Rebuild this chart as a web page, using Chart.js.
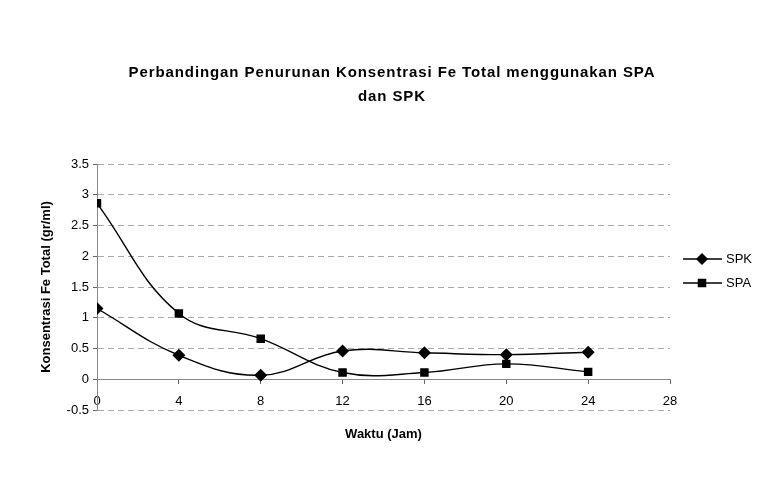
<!DOCTYPE html>
<html>
<head>
<meta charset="utf-8">
<script src="https://cdn.jsdelivr.net/npm/chart.js@4/dist/chart.umd.min.js"></script>
<style>
  body { margin: 0; background: #fff; }
  canvas { display: block; }
</style>
</head>
<body>
<canvas id="myChart" width="782" height="493"></canvas>
<script>
// data
const waktu = [0, 4, 8, 12, 16, 20, 24];
const spk = [1.15, 0.39, 0.065, 0.46, 0.43, 0.40, 0.44];
const spa = [2.86, 1.07, 0.66, 0.11, 0.11, 0.25, 0.12];
const seriesNames = ['SPK', 'SPA'];
const seriesMarkers = ['rectRot', 'rect'];
const titleLines = ['Perbandingan Penurunan Konsentrasi Fe Total menggunakan SPA', 'dan SPK'];

function toPoints(values) {
    return waktu.map((x, i) => ({ x: x, y: values[i] }));
}

// title with a bit of letter spacing, centered on the whole page
const spacedTitle = {
    id: 'spacedTitle',
    afterDraw(chart) {
        const ctx = chart.ctx;
        ctx.save();
        ctx.font = 'bold 15px Arial';
        ctx.fillStyle = '#000';
        ctx.textAlign = 'center';
        ctx.textBaseline = 'middle';
        if ('letterSpacing' in ctx) ctx.letterSpacing = '0.9px';
        titleLines.forEach((t, i) => ctx.fillText(t, 392, 73 + i * 24));
        ctx.restore();
    }
};

// small legend drawn at the right, line + marker like the original
const sideLegend = {
    id: 'sideLegend',
    afterDraw(chart) {
        const ctx = chart.ctx;
        ctx.save();
        chart.data.datasets.forEach((ds, i) => {
            const y = 259 + i * 24;
            ctx.strokeStyle = '#000';
            ctx.lineWidth = 1.5;
            ctx.beginPath();
            ctx.moveTo(683, y);
            ctx.lineTo(722, y);
            ctx.stroke();
            ctx.fillStyle = '#000';
            Chart.helpers.drawPoint(ctx, { pointStyle: ds.pointStyle, radius: 5, rotation: 0, borderWidth: 1 }, 702, y);
            ctx.font = '13px Arial';
            ctx.textBaseline = 'middle';
            ctx.fillText(ds.label, 726, y);
        });
        ctx.restore();
    }
};

const ctx = document.querySelector('#myChart').getContext('2d');
new Chart(ctx, {
    type: 'line',
    data: {
        datasets: [
            {
                label: seriesNames[0],
                data: toPoints(spk),
                borderColor: '#000',
                backgroundColor: '#000',
                borderWidth: 1.4,
                pointStyle: seriesMarkers[0],
                pointRadius: 5.5,
                tension: 0.4
            },
            {
                label: seriesNames[1],
                data: toPoints(spa),
                borderColor: '#000',
                backgroundColor: '#000',
                borderWidth: 1.4,
                pointStyle: seriesMarkers[1],
                pointRadius: 5,
                tension: 0.4
            }
        ]
    },
    options: {
        responsive: false,
        animation: false,
        layout: { padding: { left: 0, right: 0, top: 164, bottom: 83 } },
        plugins: {
            legend: { display: false },
            tooltip: { enabled: false },
            title: { display: false }
        },
        scales: {
            x: {
                type: 'linear',
                position: { y: 0 },
                min: 0,
                max: 28,
                ticks: { stepSize: 4, color: '#000', font: { family: 'Arial', size: 13 }, padding: 10 },
                grid: { drawOnChartArea: false, drawTicks: true, tickLength: 4, tickColor: '#666' },
                border: { color: '#888', dash: [6, 4] },
                title: {
                    display: true,
                    text: 'Waktu (Jam)',
                    color: '#000',
                    font: { family: 'Arial', size: 13, weight: 'bold' },
                    padding: { top: 8 }
                }
            },
            y: {
                min: -0.5,
                max: 3.5,
                afterFit(scale) { scale.width = 97; },
                ticks: {
                    stepSize: 0.5,
                    color: '#000',
                    font: { family: 'Arial', size: 13 },
                    padding: 4,
                    callback: (v) => String(v)
                },
                grid: { color: '#aaa', tickLength: 4, tickColor: '#666' },
                border: { color: '#888', dash: [6, 4] },
                title: {
                    display: true,
                    text: 'Konsentrasi Fe Total (gr/ml)',
                    color: '#000',
                    font: { family: 'Arial', size: 13, weight: 'bold' },
                    padding: { top: 39, bottom: 4 }
                }
            },
            // empty box on the right that keeps room for the legend
            side: {
                type: 'linear',
                position: 'right',
                afterFit(scale) { scale.width = 112; },
                ticks: { display: false },
                grid: { display: false },
                border: { display: false }
            }
        }
    },
    plugins: [spacedTitle, sideLegend]
});
</script>
</body>
</html>
